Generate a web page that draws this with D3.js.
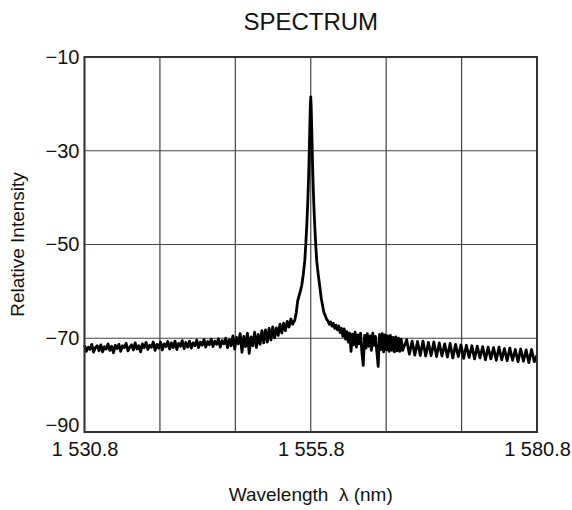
<!DOCTYPE html>
<html>
<head>
<meta charset="utf-8">
<script src="https://cdn.jsdelivr.net/npm/d3@7"></script>
<style>
  html, body { margin: 0; padding: 0; background: #fff; }
  text { font-family: "Liberation Sans", Arial, sans-serif; fill: #111; }
</style>
</head>
<body>
<div id="chart"></div>
<script>
// spectrum data
const xTickValues = [1530.8, 1555.8, 1580.8];
const xTickLabels = ["1 530.8", "1 555.8", "1 580.8"];
const yTickValues = [-10, -30, -50, -70, -90];
const yTickLabels = ["\u221210", "\u221230", "\u221250", "\u221270", "\u221290"];

// left noise floor: starts at 1530.8, one value every 0.2 nm
const leftStart = 1530.8, leftStep = 0.2;
const leftNoise = [
  -71.5, -72.8, -71.9, -72.4, -71.3, -73.0, -72.0, -71.6, -72.7, -71.4,
  -72.9, -71.8, -72.3, -71.2, -72.6, -71.7, -73.1, -71.5, -72.2, -71.3,
  -72.8, -71.6, -72.0, -71.1, -72.7, -71.9, -71.4, -72.5, -71.0, -72.3,
  -71.6, -72.9, -71.2, -72.0, -70.9, -72.4, -71.5, -71.9, -70.8, -72.6,
  -71.3, -72.1, -70.8, -72.5, -71.2, -71.8, -70.7, -72.3, -71.0, -72.0,
  -70.6, -72.4, -71.1, -71.7, -70.5, -72.2, -70.9, -71.9, -70.6, -72.1,
  -71.0, -71.6, -70.4, -72.0, -70.8, -71.5, -70.3, -71.9, -70.7, -71.4,
  -70.2, -71.8, -70.6, -71.3, -70.1, -71.9, -70.5, -71.2, -70.0, -72.0,
  -70.3, -71.6, -69.5, -72.3, -69.8, -71.2, -69.0, -73.0, -69.6, -71.8,
  -68.9, -73.2, -69.7, -71.6, -68.7, -72.0, -69.2, -71.3, -68.4, -71.0,
  -68.2, -70.8, -67.9, -70.4, -67.6, -69.9, -67.8, -69.4, -67.0, -68.9,
  -66.8, -68.4, -66.4, -67.6, -65.9, -67.0
];

// laser line around 1555.8 nm
const peakWavelength = [
  1554.03, 1554.2, 1554.36, 1554.58, 1554.8, 1554.97, 1555.14, 1555.25,
  1555.36, 1555.47, 1555.58, 1555.63, 1555.69, 1555.745, 1555.8,
  1555.855, 1555.91, 1555.97, 1556.02, 1556.13, 1556.24, 1556.35,
  1556.46, 1556.63, 1556.8, 1556.96, 1557.24, 1557.57
];
const peakIntensity = [
  -66.2, -64.5, -62.0, -60.5, -58.8, -56.5, -53.5, -50.0,
  -46.0, -41.0, -34.5, -30.5, -25.5, -21.0, -18.5,
  -21.0, -25.5, -30.5, -34.5, -41.0, -46.0, -50.0,
  -53.5, -56.5, -59.0, -61.5, -64.4, -66.0
];

// busy stretch right of the line: starts at 1557.7, one value every 0.15 nm
const denseStart = 1557.7, denseStep = 0.15;
const denseNoise = [
  -66.3, -67.0, -66.5, -67.4, -66.8, -67.9, -67.2, -68.2, -67.4, -68.8,
  -67.9, -69.6, -68.0, -70.2, -68.6, -70.8, -68.9, -72.8, -69.1, -71.4,
  -68.7, -71.9, -69.3, -71.2, -68.9, -73.0, -75.8, -69.4, -72.1, -69.0,
  -71.7, -69.5, -72.6, -68.9, -71.5, -69.6, -72.8, -76.0, -69.2, -72.4,
  -69.0, -72.9, -69.3, -72.5, -69.5, -72.8, -69.4, -72.6, -69.8, -72.9,
  -69.7, -72.7, -70.0, -72.8, -70.2, -72.6
];

// right noise floor: starts at 1566.4, one value every 0.3 nm
const rightStart = 1566.4, rightStep = 0.3;
const rightNoise = [
  -70.3, -73.4, -70.6, -73.6, -70.7, -73.7, -70.6, -73.8, -70.9, -73.7,
  -70.8, -73.9, -71.0, -73.8, -71.2, -74.0, -71.1, -74.2, -71.3, -73.9,
  -71.4, -74.3, -71.5, -74.1, -71.6, -74.4, -71.7, -74.2, -71.8, -74.6,
  -71.9, -74.4, -72.0, -74.7, -71.9, -74.6, -72.2, -74.8, -72.1, -74.7,
  -72.4, -75.0, -72.3, -74.9, -72.5, -75.2, -72.4, -75.0, -73.6
];

const width = 572, height = 510;
const margin = { top: 57, right: 35, bottom: 78, left: 84.5 };
const innerW = width - margin.left - margin.right;
const innerH = height - margin.top - margin.bottom;

const points = [
  ...leftNoise.map((v, i) => ({ w: leftStart + i * leftStep, v })),
  ...peakWavelength.map((w, i) => ({ w, v: peakIntensity[i] })),
  ...denseNoise.map((v, i) => ({ w: denseStart + i * denseStep, v })),
  ...rightNoise.map((v, i) => ({ w: rightStart + i * rightStep, v }))
];

const x = d3.scaleLinear().domain([1530.8, 1580.8]).range([0, innerW]);
const y = d3.scaleLinear().domain([-90, -10]).range([innerH, 0]);

const svg = d3.select("#chart").append("svg")
  .attr("width", width)
  .attr("height", height);

const g = svg.append("g")
  .attr("transform", `translate(${margin.left},${margin.top})`);

// grid
const xGrid = d3.range(7).map(i => 1530.8 + i * 50 / 6);
g.append("g")
  .selectAll("line")
  .data(xGrid)
  .join("line")
  .attr("x1", d => x(d)).attr("x2", d => x(d))
  .attr("y1", 0).attr("y2", innerH)
  .attr("stroke", "#444").attr("stroke-width", 1.2);

g.append("g")
  .selectAll("line")
  .data(yTickValues)
  .join("line")
  .attr("x1", 0).attr("x2", innerW)
  .attr("y1", d => y(d)).attr("y2", d => y(d))
  .attr("stroke", "#444").attr("stroke-width", 1.2);

// spectrum trace
const line = d3.line()
  .x(d => x(d.w))
  .y(d => y(d.v));

g.append("path")
  .datum(points)
  .attr("fill", "none")
  .attr("stroke", "#000")
  .attr("stroke-width", 2.8)
  .attr("stroke-linejoin", "round")
  .attr("d", line);

// frame
g.append("rect")
  .attr("x", 0).attr("y", 0)
  .attr("width", innerW).attr("height", innerH)
  .attr("fill", "none")
  .attr("stroke", "#333")
  .attr("stroke-width", 2);

// axes (labels only)
const xAxis = g.append("g")
  .attr("transform", `translate(0,${innerH})`)
  .call(d3.axisBottom(x).tickValues(xTickValues).tickSize(0).tickPadding(10)
    .tickFormat((d, i) => xTickLabels[i]));
xAxis.select(".domain").remove();
xAxis.selectAll("text").style("font-size", "20px").attr("fill", "#111");

const yAxis = g.append("g")
  .call(d3.axisLeft(y).tickValues(yTickValues).tickSize(0).tickPadding(5)
    .tickFormat((d, i) => yTickLabels[i]));
yAxis.select(".domain").remove();
yAxis.selectAll("text").style("font-size", "20px").attr("fill", "#111")
  .attr("dy", d => d === -90 ? "-0.05em" : "0.32em");

// titles
svg.append("text")
  .attr("x", margin.left + innerW / 2)
  .attr("y", 30)
  .attr("text-anchor", "middle")
  .style("font-size", "24px")
  .text("SPECTRUM");

svg.append("text")
  .attr("x", margin.left + innerW / 2)
  .attr("y", 501)
  .attr("text-anchor", "middle")
  .style("font-size", "19px")
  .style("white-space", "pre")
  .text("Wavelength  \u03bb (nm)");

svg.append("text")
  .attr("transform", `translate(24,${margin.top + innerH / 2}) rotate(-90)`)
  .attr("text-anchor", "middle")
  .style("font-size", "19px")
  .text("Relative Intensity");
</script>
</body>
</html>
